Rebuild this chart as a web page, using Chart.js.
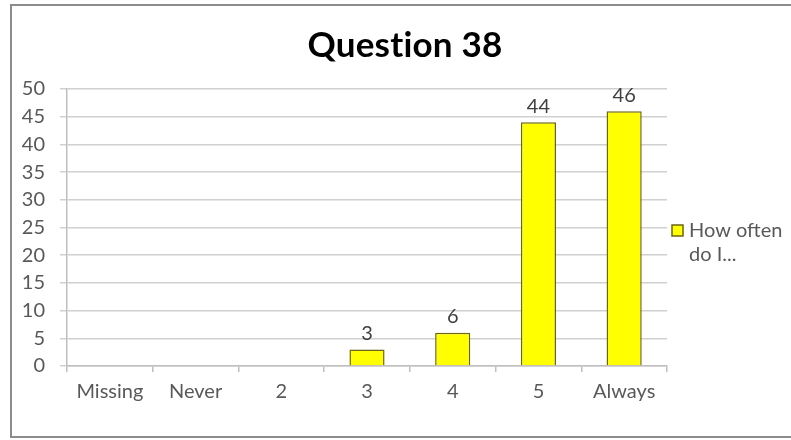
<!DOCTYPE html>
<html>
<head>
<meta charset="utf-8">
<script src="https://cdn.jsdelivr.net/npm/chart.js@4/dist/chart.umd.min.js"></script>
<style>
  html, body { margin: 0; padding: 0; background: #fff; }
  #wrap { width: 791px; height: 440px; }
</style>
</head>
<body>
<div id="wrap"><canvas id="chart" width="791" height="440"></canvas></div>
<script>
// ── Data ───────────────────────────────────────────────────────
const chartTitle = "Question 38";
const categories = ["Missing", "Never", "2", "3", "4", "5", "Always"];
const counts = [0, 0, 0, 3, 6, 44, 46];
const seriesLabel = ["How often", "do I..."];

const FONT = "Lato, 'Open Sans', sans-serif";
const TEXT_GREY = "#595959";
const FONT_SIZE = 20;

// Outer frame like the Excel chart border
const framePlugin = {
  id: "frame",
  beforeDraw(chart) {
    const ctx = chart.ctx;
    ctx.save();
    ctx.strokeStyle = "#8c8c8c";
    ctx.lineWidth = 2;
    ctx.strokeRect(11, 5, 790, 432);
    ctx.restore();
  },
};

// Title centred over the whole frame, not the plot
const titlePlugin = {
  id: "bigTitle",
  afterDraw(chart) {
    const ctx = chart.ctx;
    ctx.save();
    ctx.font = "bold 35px " + FONT;
    // a touch of spacing stops the "ti" ligature
    ctx.letterSpacing = "0.2px";
    ctx.fillStyle = "#000";
    ctx.textAlign = "center";
    ctx.textBaseline = "middle";
    ctx.fillText(chartTitle, 405, 46);
    ctx.restore();
  },
};

// Value labels above each non-zero bar
const valueLabels = {
  id: "valueLabels",
  afterDatasetsDraw(chart) {
    const ctx = chart.ctx;
    const meta = chart.getDatasetMeta(0);
    ctx.save();
    ctx.font = FONT_SIZE + "px " + FONT;
    ctx.fillStyle = "#404040";
    ctx.textAlign = "center";
    ctx.textBaseline = "bottom";
    meta.data.forEach((bar, i) => {
      if (!counts[i]) return;
      ctx.fillText(String(counts[i]), bar.x, bar.y - 6);
    });
    ctx.restore();
  },
};

// Two-line legend at the right, as in the source
const sideLegend = {
  id: "sideLegend",
  afterDraw(chart) {
    const ctx = chart.ctx;
    const ds = chart.data.datasets[0];
    const x = chart.chartArea.right + 5;
    const y = 231;
    ctx.save();
    ctx.fillStyle = ds.backgroundColor;
    ctx.strokeStyle = ds.borderColor;
    ctx.lineWidth = 1.5;
    ctx.fillRect(x, y - 6, 11, 11);
    ctx.strokeRect(x, y - 6, 11, 11);
    ctx.font = FONT_SIZE + "px " + FONT;
    ctx.fillStyle = TEXT_GREY;
    ctx.textAlign = "left";
    ctx.textBaseline = "middle";
    seriesLabel.forEach((line, i) => ctx.fillText(line, x + 17, y + i * 24));
    ctx.restore();
  },
};

new Chart(document.getElementById("chart"), {
  type: "bar",
  data: {
    labels: categories,
    datasets: [{
      label: seriesLabel.join(" "),
      data: counts,
      backgroundColor: "#ffff00",
      borderColor: "#6b6614",
      borderWidth: 1.5,
      barPercentage: 0.41,
      categoryPercentage: 1,
    }],
  },
  options: {
    responsive: false,
    animation: false,
    events: [],
    layout: { padding: { left: 0, top: 89, right: 124, bottom: 0 } },
    plugins: { legend: { display: false }, title: { display: false }, tooltip: { enabled: false } },
    scales: {
      x: {
        afterFit: (s) => { s.height = 74; },
        grid: { drawOnChartArea: false, drawTicks: true, tickLength: 6, color: "#bfbfbf", lineWidth: 1.5 },
        border: { color: "#bfbfbf", width: 1.5 },
        ticks: { color: TEXT_GREY, font: { family: FONT, size: FONT_SIZE }, padding: 8, maxRotation: 0, autoSkip: false },
      },
      y: {
        min: 0,
        max: 50,
        afterFit: (s) => { s.width = 67; },
        grid: { color: "#d0d0d0", lineWidth: 1.5, tickLength: 7 },
        border: { color: "#bfbfbf", width: 1.5 },
        ticks: { stepSize: 5, autoSkip: false, color: TEXT_GREY, font: { family: FONT, size: FONT_SIZE }, padding: 15 },
      },
    },
  },
  plugins: [framePlugin, titlePlugin, valueLabels, sideLegend],
});
</script>
</body>
</html>
